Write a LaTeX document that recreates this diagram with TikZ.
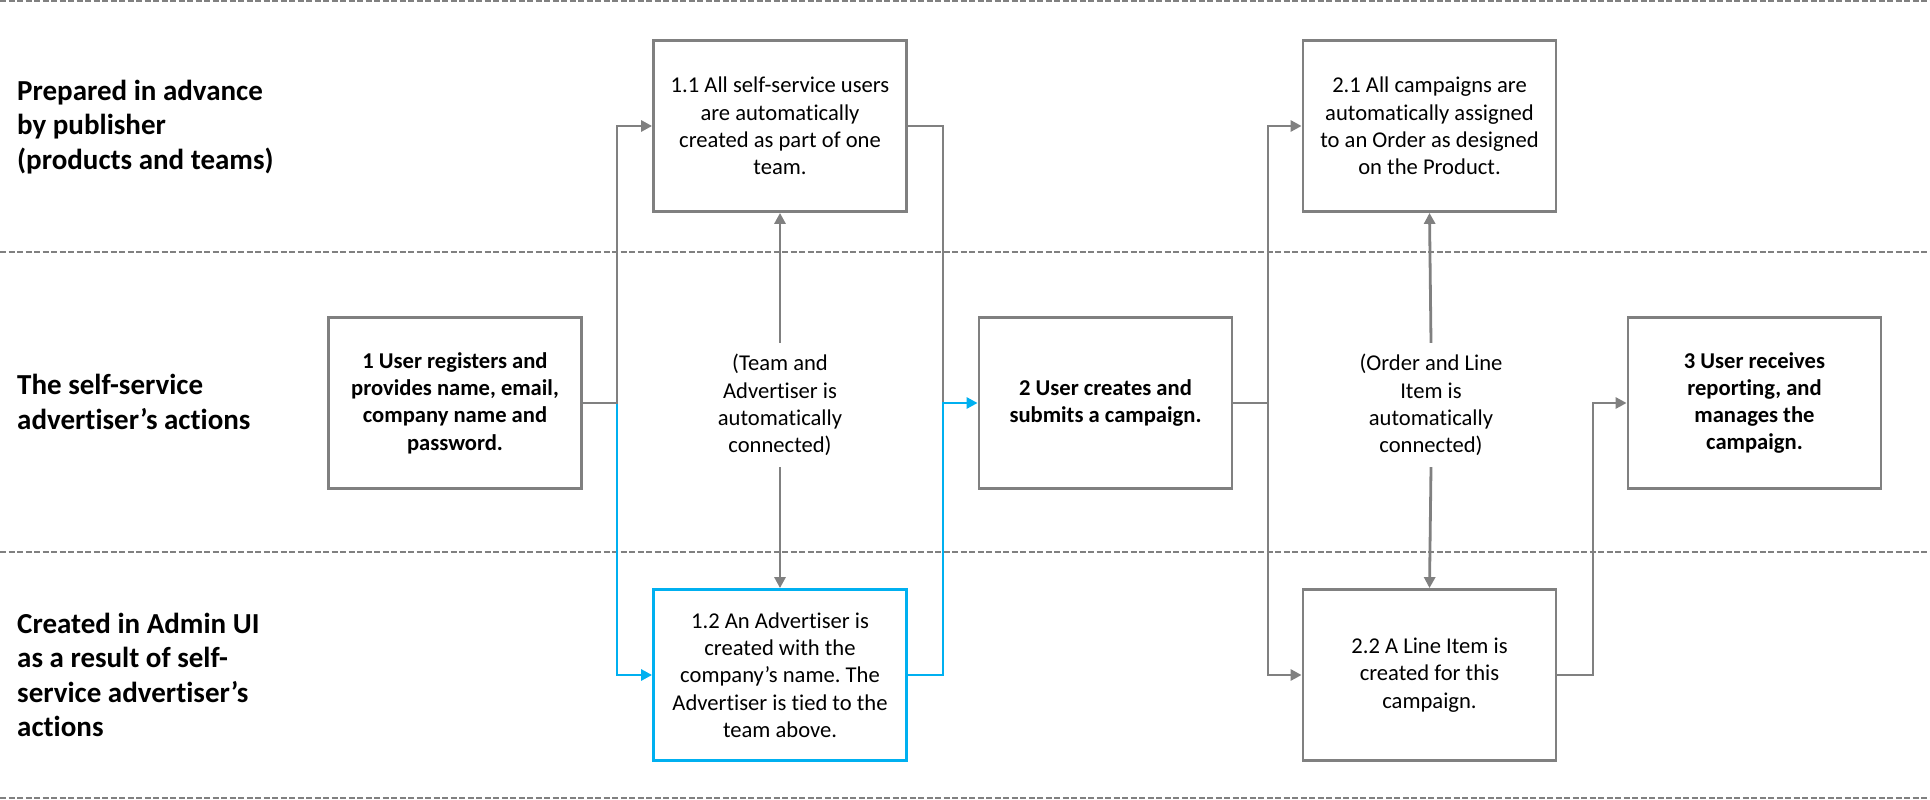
\documentclass[tikz,border=0pt]{standalone}
\usepackage{fontspec}
\setmainfont{Carlito}[Ligatures={NoCommon}]
\usetikzlibrary{arrows.meta}
\definecolor{lgray}{RGB}{128,128,128}
\definecolor{lblue}{RGB}{0,176,240}
\newcommand{\mybody}{\fontsize{22.6}{27.3}\selectfont\frenchspacing}
\newcommand{\mylab}{\fontsize{29}{34.5}\selectfont\bfseries\frenchspacing}
\begin{document}
\begin{tikzpicture}[x=1pt,y=-1pt,
  box/.style={draw=lgray,line width=2.8pt,minimum width=253pt,minimum height=171pt,inner sep=0pt,align=center,font=\mybody},
  bluebox/.style={box,draw=lblue},
  bold/.style={font=\mybody\bfseries},
  lane/.style={anchor=west,align=left,inner sep=0pt,font=\mylab},
  note/.style={align=center,inner sep=0pt,minimum height=124pt,font=\mybody},
  sep/.style={draw=lgray,line width=1.5pt,dash pattern=on 6pt off 2.5pt},
  conn/.style={draw=lgray,line width=2.8pt},
  connar/.style={conn,-{Triangle[length=11pt,width=11pt]}},
  bconn/.style={draw=lblue,line width=2.8pt},
  bconnar/.style={bconn,-{Triangle[length=11pt,width=11pt]}}]
\useasboundingbox (0,0) rectangle (1930,800);
% separators
\draw[sep] (0,1) -- (1930,1);
\draw[sep] (0,252) -- (1930,252);
\draw[sep] (0,552) -- (1930,552);
\draw[sep] (0,798) -- (1930,798);
% lane labels
\node[lane] (l1) at (17,127) {Prepared in advance\\by publisher\\(products and teams)};
\node[lane] (l2) at (17,402) {The self-service\\advertiser’s actions};
\node[lane] (l3) at (17,675) {Created in Admin UI\\as a result of self-\\service advertiser’s\\actions};
% boxes
\node[box] (b11) at (780,126) {1.1 All self-service users\\are automatically\\created as part of one\\team.};
\node[bluebox] (b12) at (780,675) {1.2 An Advertiser is\\created with the\\company’s name. The\\Advertiser is tied to the\\team above.};
\node[box,bold] (b1) at (455,403) {1 User registers and\\provides name, email,\\company name and\\password.};
\node[box,bold] (b2) at (1105.5,403) {2 User creates and\\submits a campaign.};
\node[box] (b21) at (1429.5,126) {2.1 All campaigns are\\automatically assigned\\to an Order as designed\\on the Product.};
\node[box] (b22) at (1429.5,675) {2.2 A Line Item is\\created for this\\campaign.};
\node[box,bold] (b3) at (1754.5,403) {3 User receives\\reporting, and\\manages the\\campaign.};
% notes
\node[note] (n1) at (780,405) {(Team and\\Advertiser is\\automatically\\connected)};
\node[note] (n2) at (1431,405) {(Order and Line\\Item is\\automatically\\connected)};
% junctions
\coordinate (j1) at (617,403);
\coordinate (j2) at (943,403);
\coordinate (j3) at (1268,403);
\coordinate (j4) at (1593,403);
% connectors
\draw[bconnar] (b1.east) -- (j1) |- (b12.west);
\draw[connar] (b1.east) -- (j1) |- (b11.west);
\draw[conn] (b11.east) -| (j2);
\draw[bconnar] (b12.east) -| (j2) -- (b2.west);
\draw[connar] (b2.east) -- (j3) |- (b21.west);
\draw[connar] (b2.east) -- (j3) |- (b22.west);
\draw[connar] (b22.east) -| (j4) -- (b3.west);
\draw[connar] (n1.north) -- (b11.south);
\draw[connar] (n1.south) -- (b12.north);
\draw[connar] (n2.north) -- (b21.south);
\draw[connar] (n2.south) -- (b22.north);
\end{tikzpicture}
\end{document}
